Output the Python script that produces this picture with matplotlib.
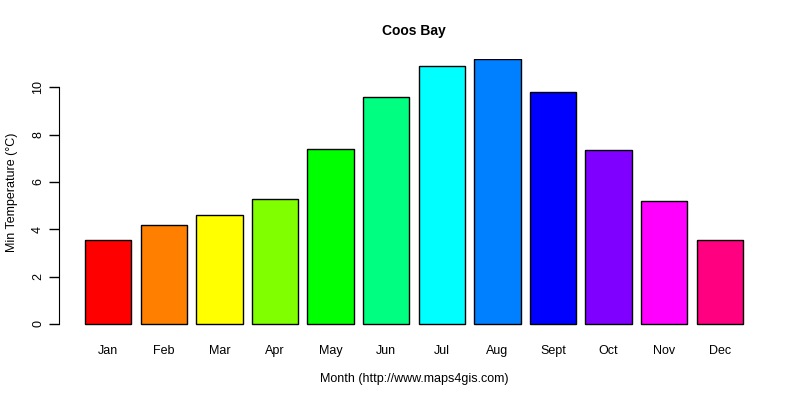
import matplotlib
matplotlib.use('Agg')
import matplotlib.pyplot as plt

plt.rcParams['font.family'] = ['Liberation Sans', 'DejaVu Sans']

# monthly minimum temperatures
months = ['Jan', 'Feb', 'Mar', 'Apr', 'May', 'Jun',
          'Jul', 'Aug', 'Sept', 'Oct', 'Nov', 'Dec']
min_temp = [3.55, 4.19, 4.61, 5.29, 7.41, 9.57,
            10.89, 11.19, 9.79, 7.33, 5.2, 3.55]
# R rainbow(12)
colors = ['#FF0000', '#FF8000', '#FFFF00', '#80FF00', '#00FF00', '#00FF80',
          '#00FFFF', '#0080FF', '#0000FF', '#8000FF', '#FF00FF', '#FF0080']
yticks = [0, 2, 4, 6, 8, 10]

fig = plt.figure(figsize=(8, 4), dpi=100)
ax = fig.add_axes([0.0734, 0.1835, 0.8882, 0.669])

# R barplot layout: width 1, space 0.2
x = [0.7 + 1.2 * i for i in range(len(months))]
ax.bar(x, min_temp, width=1.0, color=colors, edgecolor='black', linewidth=1)

ax.set_xlim(0.2 - 0.568, 14.4 + 0.568)
ax.set_ylim(-0.01 * max(min_temp), max(min_temp))

for side in ['top', 'right', 'bottom']:
    ax.spines[side].set_visible(False)
ax.spines['left'].set_bounds(0, 10)

ax.set_yticks(yticks)
ax.set_yticklabels([str(t) for t in yticks], rotation=90, va='center')
ax.tick_params(axis='y', length=7, width=1, pad=3.5, labelsize=9)

ax.set_xticks(x)
ax.set_xticklabels(months)
ax.tick_params(axis='x', length=0, pad=13.5, labelsize=9)

ax.set_ylabel('Min Temperature (°C)', fontsize=9, labelpad=10)
ax.set_xlabel('Month (http://www.maps4gis.com)', fontsize=9, labelpad=11.5)
ax.set_title('Coos Bay', fontsize=10, fontweight='bold', pad=17)

fig.savefig('out.png', dpi=100)
